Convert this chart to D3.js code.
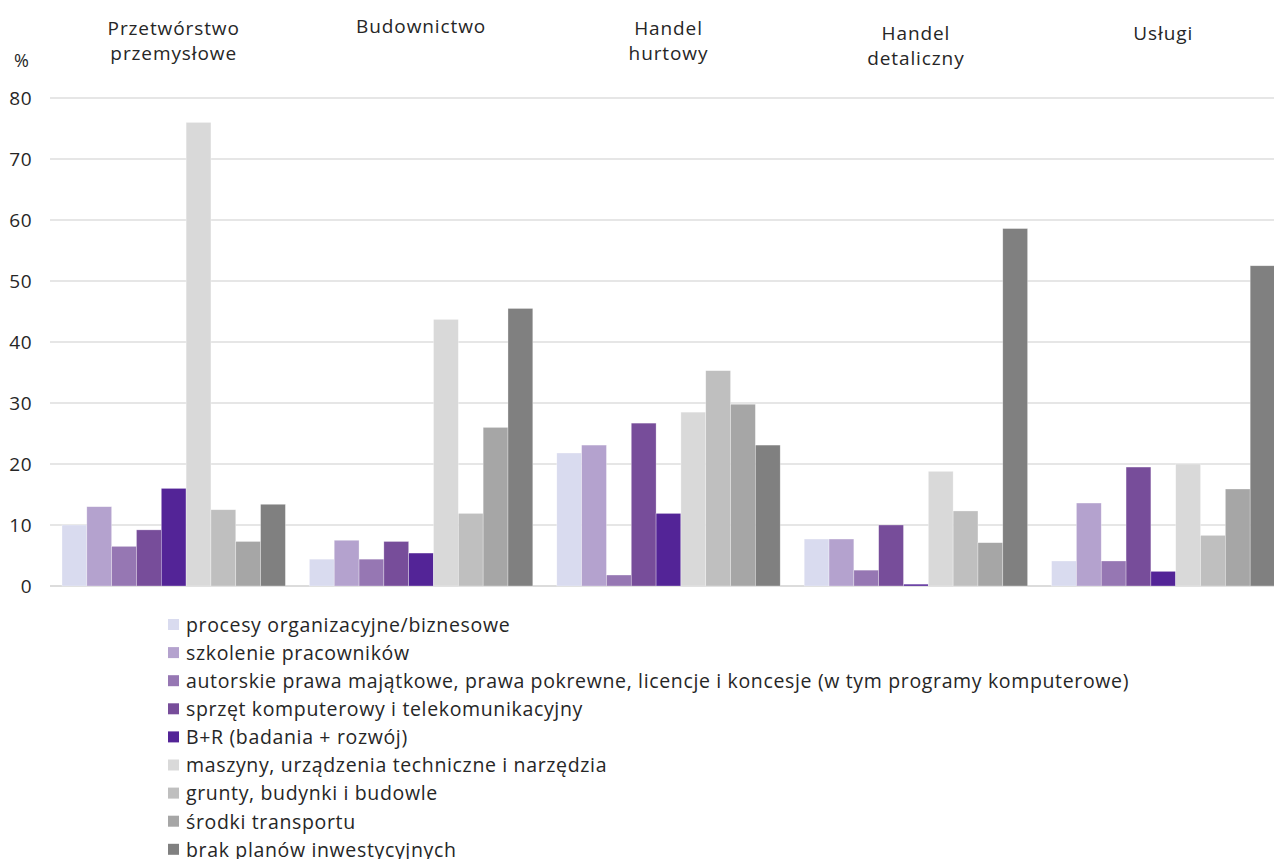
<!DOCTYPE html>
<html>
<head>
<meta charset="utf-8">
<script src="https://cdn.jsdelivr.net/npm/d3@7"></script>
<style>
  body { margin: 0; background: #fff; }
  text { font-family: "Open Sans", "Noto Sans", sans-serif; fill: #262626; }
</style>
</head>
<body>
<script>
// Sectors (groups) and investment categories (series)
var sectors = ["Przetwórstwo przemysłowe", "Budownictwo", "Handel hurtowy", "Handel detaliczny", "Usługi"];
var sectorLines = [["Przetwórstwo", "przemysłowe"], ["Budownictwo"], ["Handel", "hurtowy"], ["Handel", "detaliczny"], ["Usługi"]];

var categories = [
    "procesy organizacyjne/biznesowe",
    "szkolenie pracowników",
    "autorskie prawa majątkowe, prawa pokrewne, licencje i koncesje (w tym programy komputerowe)",
    "sprzęt komputerowy i telekomunikacyjny",
    "B+R (badania + rozwój)",
    "maszyny, urządzenia techniczne i narzędzia",
    "grunty, budynki i budowle",
    "środki transportu",
    "brak planów inwestycyjnych"
];
var colors = ["#d9dbef", "#b4a2ce", "#9677b3", "#774d9a", "#532497", "#d9d9d9", "#bfbfbf", "#a6a6a6", "#808080"];

// values per category, one per sector
var procesy   = [10.0, 4.4, 21.8, 7.7, 4.1];
var szkolenie = [13.0, 7.5, 23.1, 7.7, 13.6];
var prawa     = [6.5, 4.4, 1.8, 2.6, 4.1];
var sprzet    = [9.2, 7.3, 26.7, 10.0, 19.5];
var br        = [16.0, 5.4, 11.9, 0.3, 2.4];
var maszyny   = [76.0, 43.7, 28.5, 18.8, 20.0];
var grunty    = [12.5, 11.9, 35.3, 12.3, 8.3];
var transport = [7.3, 26.0, 29.8, 7.1, 15.9];
var brak      = [13.4, 45.5, 23.1, 58.6, 52.5];
var series = [procesy, szkolenie, prawa, sprzet, br, maszyny, grunty, transport, brak];

var yTicks = [0, 10, 20, 30, 40, 50, 60, 70, 80];

var W = 1274, H = 859;
var plotLeft = 50, plotRight = 1274, plotTop = 98, plotBottom = 586;

var svg = d3.select("body").append("svg")
    .attr("width", W)
    .attr("height", H);

var x0 = d3.scaleBand()
    .domain(sectors)
    .range([plotLeft, plotLeft + 5 * 247.4])
    .paddingInner(0.097)
    .paddingOuter(0.0485);

var x1 = d3.scaleBand()
    .domain(d3.range(categories.length))
    .range([0, x0.bandwidth()]);

var y = d3.scaleLinear().domain([0, 80]).range([plotBottom, plotTop]);

// gridlines
svg.append("g").selectAll("line")
    .data(yTicks)
    .join("line")
    .attr("x1", plotLeft)
    .attr("x2", plotRight)
    .attr("y1", function (d) { return y(d); })
    .attr("y2", function (d) { return y(d); })
    .attr("stroke", function (d) { return d === 0 ? "#d0d0d0" : "#dedede"; })
    .attr("stroke-width", 1.3);

// y axis labels
var yAxis = d3.axisLeft(y).tickValues(yTicks).tickSize(0).tickPadding(0);
var gy = svg.append("g")
    .attr("transform", "translate(32,0)")
    .call(yAxis);
gy.select(".domain").remove();
gy.selectAll("text")
    .style("font-family", "'Open Sans', 'Noto Sans', sans-serif")
    .style("font-size", "19px")
    .style("letter-spacing", "0.5px")
    .attr("fill", "#262626");

svg.append("text")
    .attr("x", 14)
    .attr("y", 67)
    .style("font-size", "18px")
    .text("%");

// bars
var groups = svg.append("g").selectAll("g")
    .data(sectors)
    .join("g")
    .attr("transform", function (d) { return "translate(" + x0(d) + ",0)"; });

groups.selectAll("rect")
    .data(function (d, i) { return series.map(function (s, k) { return { k: k, v: s[i] }; }); })
    .join("rect")
    .attr("x", function (d) { return x1(d.k); })
    .attr("width", x1.bandwidth())
    .attr("y", function (d) { return y(d.v); })
    .attr("height", function (d) { return y(0) - y(d.v); })
    .attr("fill", function (d) { return colors[d.k]; })
    .attr("stroke", "#ffffff")
    .attr("stroke-opacity", 0.5)
    .attr("stroke-width", 0.6);

// sector titles (slightly staggered like the original)
var titleTop = [35, 33, 35, 40, 40];
svg.append("g").selectAll("text")
    .data(sectors)
    .join("text")
    .attr("text-anchor", "middle")
    .attr("x", function (d) { return x0(d) + x0.bandwidth() / 2; })
    .attr("y", function (d, i) { return titleTop[i]; })
    .style("font-size", "19px")
    .style("letter-spacing", "0.9px")
    .each(function (d, i) {
        var t = d3.select(this);
        sectorLines[i].forEach(function (line, j) {
            t.append("tspan")
                .attr("x", x0(d) + x0.bandwidth() / 2)
                .attr("dy", j === 0 ? 0 : 25)
                .text(line);
        });
    });

// legend
var legend = svg.append("g").attr("transform", "translate(168,625)");
var items = legend.selectAll("g")
    .data(categories)
    .join("g")
    .attr("transform", function (d, i) { return "translate(0," + (i * 28.1) + ")"; });

items.append("rect")
    .attr("x", 0)
    .attr("y", -6)
    .attr("width", 11)
    .attr("height", 11)
    .attr("fill", function (d, i) { return colors[i]; });

items.append("text")
    .attr("x", 18)
    .attr("y", 0)
    .attr("dy", "0.35em")
    .style("font-size", "19.5px")
    .style("letter-spacing", "0.65px")
    .text(function (d) { return d; });
</script>
</body>
</html>
